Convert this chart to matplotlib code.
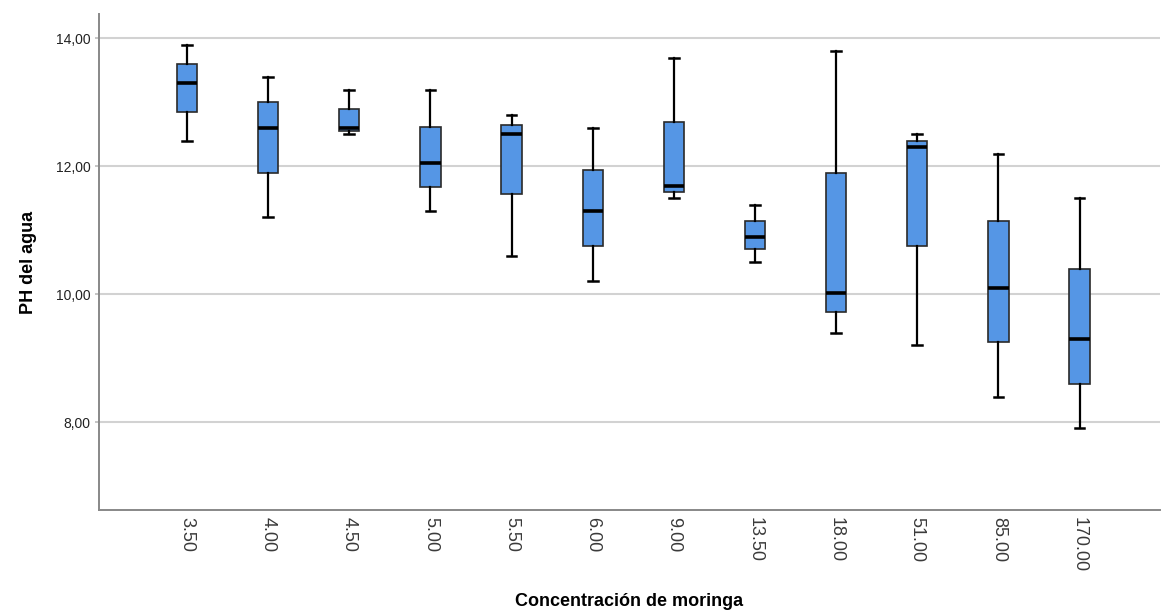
import matplotlib
matplotlib.use("Agg")
import matplotlib.pyplot as plt

# Moringa concentration groups and pH summary statistics per group
categories = ["3.50", "4.00", "4.50", "5.00", "5.50", "6.00",
              "9.00", "13.50", "18.00", "51.00", "85.00", "170.00"]
whisker_low = [12.40, 11.20, 12.50, 11.30, 10.60, 10.20, 11.50, 10.50, 9.40, 9.20, 8.40, 7.90]
q1 = [12.85, 11.90, 12.55, 11.68, 11.56, 10.75, 11.60, 10.70, 9.72, 10.75, 9.25, 8.60]
median = [13.30, 12.60, 12.60, 12.05, 12.50, 11.30, 11.70, 10.90, 10.02, 12.30, 10.10, 9.30]
q3 = [13.60, 13.00, 12.90, 12.62, 12.65, 11.95, 12.70, 11.15, 11.90, 12.40, 11.15, 10.40]
whisker_high = [13.90, 13.40, 13.20, 13.20, 12.80, 12.60, 13.70, 11.40, 13.80, 12.50, 12.20, 11.50]
y_ticks = [8, 10, 12, 14]

plt.rcParams["font.family"] = ["Liberation Sans", "DejaVu Sans"]

fig = plt.figure(figsize=(11.61, 6.15), dpi=100)
ax = fig.add_axes([0.0853, 0.1707, 0.9137, 0.8063])

stats = []
for i, lab in enumerate(categories):
    stats.append(dict(label=lab, whislo=whisker_low[i], q1=q1[i], med=median[i],
                      q3=q3[i], whishi=whisker_high[i], fliers=[]))

positions = list(range(len(categories)))
ax.bxp(stats, positions=positions, widths=0.25, patch_artist=True,
       showfliers=False,
       boxprops=dict(facecolor="#5596e5", edgecolor="#2a2a2a", linewidth=1.2),
       medianprops=dict(color="black", linewidth=2.6, solid_capstyle="butt"),
       whiskerprops=dict(color="black", linewidth=1.6),
       capprops=dict(color="black", linewidth=1.8),
       capwidths=0.12, zorder=3)

ax.set_xlim(-1.084, 11.99)
ax.set_ylim(6.625, 14.38)
ax.set_yticks(y_ticks)
ax.set_yticklabels([f"{v:.2f}".replace(".", ",") for v in y_ticks], fontsize=10, color="#222222")
ax.set_xticks(positions)
ax.set_xticklabels(categories, rotation=-90, fontsize=13, color="#3a3a3a")
ax.tick_params(axis="x", length=0, pad=5)
ax.tick_params(axis="y", length=3, color="#bbbbbb", width=1.2, pad=3)

ax.grid(axis="y", color="#d2d2d2", linewidth=1.5, zorder=0)
ax.set_axisbelow(True)
for side in ("top", "right"):
    ax.spines[side].set_visible(False)
for side in ("left", "bottom"):
    ax.spines[side].set_color("#888888")
    ax.spines[side].set_linewidth(1.4)

ax.set_ylabel("PH del agua", fontsize=13, fontweight="bold", labelpad=14)
ax.set_xlabel("Concentración de moringa", fontsize=13, fontweight="bold", labelpad=15)

fig.savefig("out.png", dpi=100)
